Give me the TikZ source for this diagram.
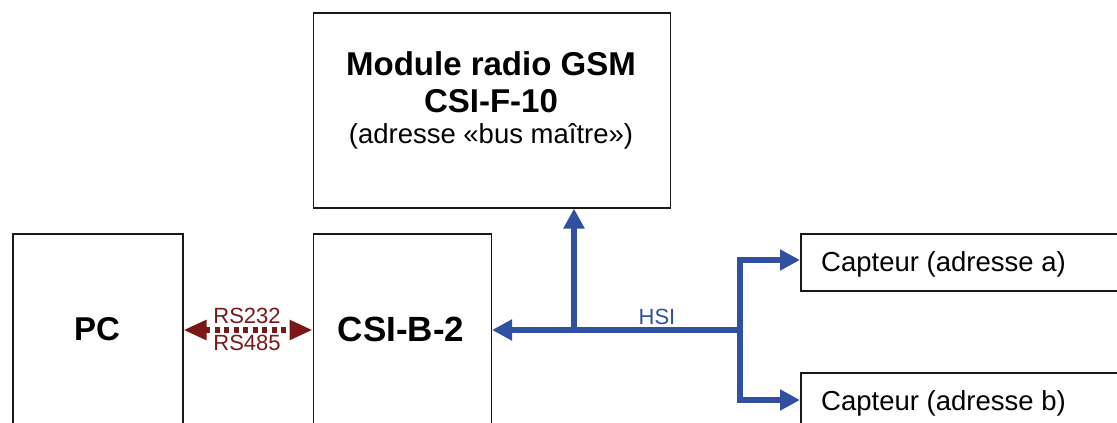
\documentclass[tikz,border=0pt]{standalone}
\usepackage{fontspec}
\setmainfont{Liberation Sans}
\usetikzlibrary{arrows.meta}
\definecolor{hsiblue}{HTML}{3050A2}
\definecolor{rsred}{HTML}{7A1818}
\tikzset{
  box/.style={draw=black!90, line width=1.5pt, inner sep=0pt, anchor=north west},
  bigtxt/.style={font=\fontsize{33}{38}\selectfont\bfseries, anchor=base, inner sep=0pt},
  midtxt/.style={font=\fontsize{27.5}{32}\selectfont, anchor=base, inner sep=0pt},
  smalltxt/.style={font=\fontsize{22}{26}\selectfont, anchor=base, inner sep=0pt},
  hsi/.style={draw=hsiblue, line width=5.5pt, -{Triangle[length=20pt,width=20pt]}},
  hsiline/.style={draw=hsiblue, line width=5.5pt},
  rs/.style={draw=rsred, line width=5.5pt, dash pattern=on 5pt off 4.5pt,
    {Triangle[length=23pt,width=19pt]}-{Triangle[length=23pt,width=19pt]}}
}
\begin{document}
\begin{tikzpicture}[x=1pt,y=-1pt]
\useasboundingbox (0,0) rectangle (1117,423);
\clip (0,0) rectangle (1117,423);
% boxes
\node[box, minimum width=357pt, minimum height=195pt] (gsm) at (312.5,12) {};
\node[box, minimum width=170pt, minimum height=230pt] (pc) at (12,233) {};
\node[box, minimum width=178pt, minimum height=230pt] (csib) at (312.5,233) {};
\node[box, minimum width=340pt, minimum height=57pt] (capa) at (800,233) {};
\node[box, minimum width=340pt, minimum height=70pt] (capb) at (800,372) {};
% texts
\node[bigtxt] (gsm1) at (491,75) {Module radio GSM};
\node[bigtxt] (gsm2) at (491,112) {CSI-F-10};
\node[midtxt] (gsm3) at (491,143) {(adresse «bus maître»)};
\node[bigtxt] (pctxt) at (97,340) {PC};
\node[bigtxt, font=\fontsize{35}{40}\selectfont\bfseries] (csibtxt) at (401,341) {CSI-B-2};
\node[midtxt, anchor=base west] (capatxt) at (821,271) {Capteur (adresse a)};
\node[midtxt, anchor=base west] (capbtxt) at (821,410) {Capteur (adresse b)};
% connector coordinates
\coordinate (pcR) at (pc.north east |- 0,330);
\coordinate (csibL) at (csib.north west |- 0,330);
\coordinate (csibR) at (csib.north east |- 0,330);
\coordinate (up) at (574,330);
\coordinate (gsmB) at (gsm.south -| up);
\coordinate (junc) at (740,330);
\coordinate (ja) at (740,260);
\coordinate (jb) at (740,400);
\coordinate (capaL) at (capa.north west |- ja);
\coordinate (capbL) at (capb.north west |- jb);
% RS link
\draw[rs] (pcR) -- (csibL);
\node[smalltxt, text=rsred] (rs232) at (247,323) {RS232};
\node[smalltxt, text=rsred] (rs485) at (247,350) {RS485};
% HSI bus
\draw[hsi] (junc) -- (csibR);
\draw[hsi] (up) -- (gsmB);
\draw[hsiline, line cap=rect] (ja) -- (jb);
\draw[hsi] (ja) -- (capaL);
\draw[hsi] (jb) -- (capbL);
\node[smalltxt, text=hsiblue] (hsilbl) at (657,324) {HSI};
\end{tikzpicture}
\end{document}
